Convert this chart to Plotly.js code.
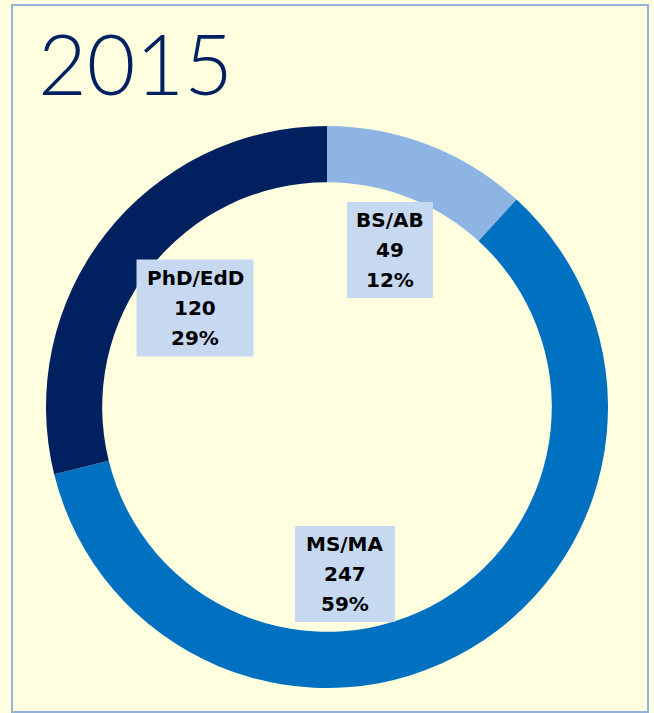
<!DOCTYPE html>
<html>
<head>
<meta charset="utf-8">
<script src="https://cdn.plot.ly/plotly-3.0.1.min.js"></script>
<style>html,body{margin:0;padding:0;background:#FFFFE0;}#chart{width:654px;height:713px;}</style>
</head>
<body>
<div id="chart"></div>
<script>
var categories = ['BS/AB', 'MS/MA', 'PhD/EdD'];
var counts = [49, 247, 120];
var percentLabels = ['12%', '59%', '29%'];
var colors = ['#8DB4E2', '#0070C0', '#002060'];
var chartTitle = '2015';

var W = 654, H = 713;
var cx = 327, cy = 407, R = 281;

var trace = {
  type: 'pie',
  labels: categories,
  values: counts,
  hole: 0.8,
  sort: false,
  direction: 'clockwise',
  rotation: 0,
  textinfo: 'none',
  hoverinfo: 'none',
  marker: {colors: colors, line: {width: 0}},
  domain: {x: [(cx - R) / W, (cx + R) / W], y: [1 - (cy + R) / H, 1 - (cy - R) / H]},
  showlegend: false
};

var boxPos = [
  {x: 390, y: 250, w: 86, h: 96},
  {x: 345, y: 574, w: 100, h: 96},
  {x: 195, y: 308, w: 117, h: 97}
];

var annotations = [];
var shapes = [{
  type: 'rect', xref: 'paper', yref: 'paper',
  x0: 12 / W, x1: 648 / W, y0: 1 - 712 / H, y1: 1 - 5 / H,
  line: {color: '#95B3D7', width: 2}, fillcolor: 'rgba(0,0,0,0)', layer: 'below'
}];
var lineOffsets = [-30, 0, 30];
categories.forEach(function (c, i) {
  var b = boxPos[i];
  shapes.push({
    type: 'rect', xref: 'paper', yref: 'paper',
    x0: (b.x - b.w / 2) / W, x1: (b.x + b.w / 2) / W,
    y0: 1 - (b.y + b.h / 2) / H, y1: 1 - (b.y - b.h / 2) / H,
    line: {width: 0}, fillcolor: '#C6D9F1', layer: 'above'
  });
  var lines = [c, String(counts[i]), percentLabels[i]];
  lines.forEach(function (t, k) {
    annotations.push({
      xref: 'paper', yref: 'paper',
      x: b.x / W, y: 1 - (b.y + lineOffsets[k]) / H,
      xanchor: 'center', yanchor: 'middle',
      text: '<b>' + t + '</b>',
      showarrow: false,
      font: {family: 'DejaVu Sans, sans-serif', size: 20, color: '#000000'}
    });
  });
});

var layout = {
  width: W, height: H,
  margin: {l: 0, r: 0, t: 0, b: 0},
  paper_bgcolor: '#FFFFE0',
  plot_bgcolor: '#FFFFE0',
  title: {
    text: chartTitle,
    x: 38 / W, xanchor: 'left', xref: 'paper',
    y: 1 - 36 / H, yanchor: 'top', yref: 'paper',
    font: {family: 'Lato, sans-serif', size: 84, color: '#002060', weight: 300}
  },
  annotations: annotations,
  shapes: shapes
};

Plotly.newPlot('chart', [trace], layout, {staticPlot: true, displayModeBar: false});
</script>
</body>
</html>
